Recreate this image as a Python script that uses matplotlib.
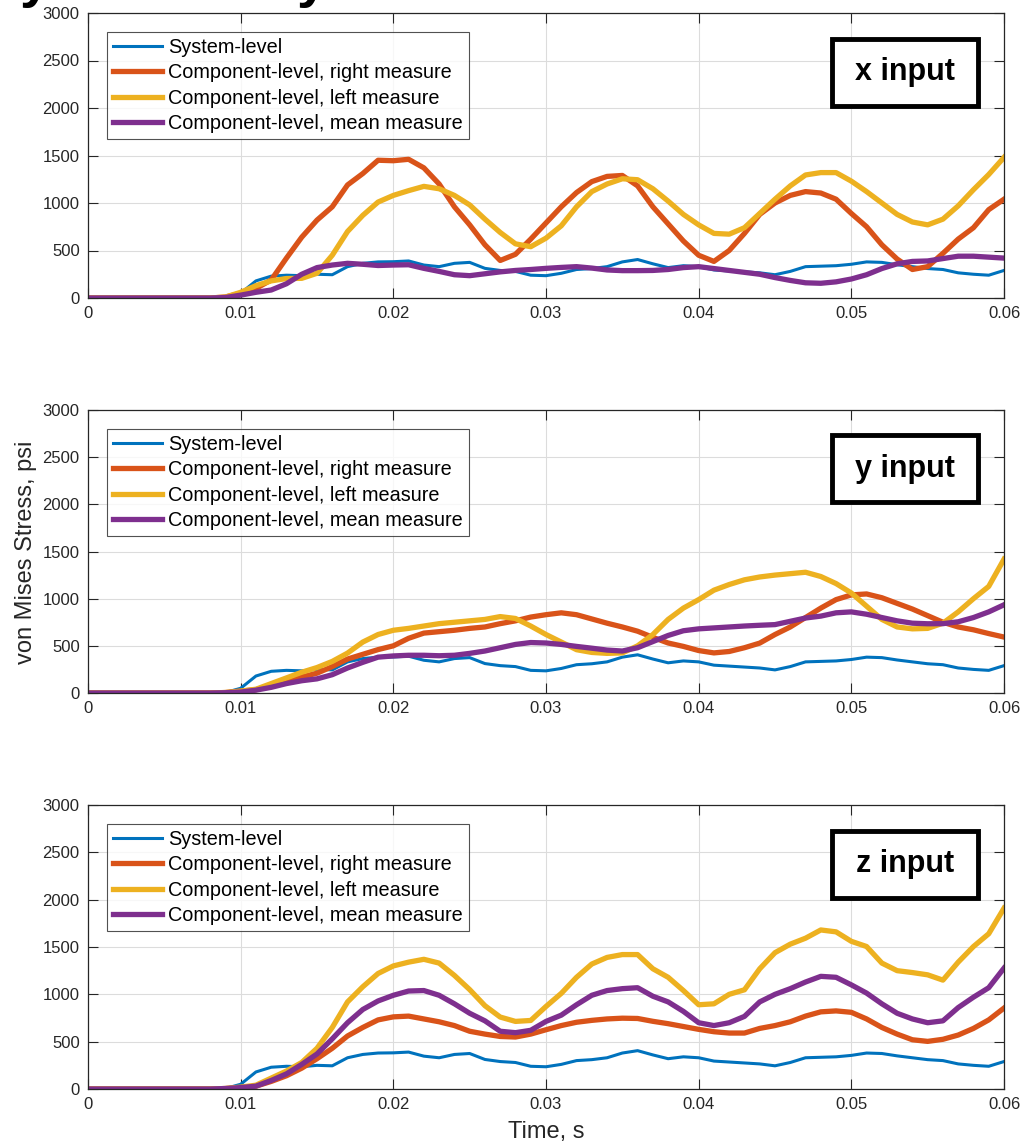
import numpy as np
import matplotlib
matplotlib.use("Agg")
import matplotlib.pyplot as plt
from matplotlib.patches import Rectangle

plt.rcParams["font.family"] = ["Liberation Sans", "DejaVu Sans"]

# time base, ms (plotted in seconds)
time_ms = list(range(0, 61))

# system-level von Mises stress (psi), identical response for every input axis
system_level = [0, 0, 0, 0, 0, 0, 0, 0, 0, 5,
                50, 180, 230, 240, 235, 250, 245, 330, 365, 380,
                382, 390, 347, 330, 365, 375, 312, 290, 280, 240,
                235, 260, 300, 310, 330, 380, 405, 360, 320, 340,
                330, 295, 285, 275, 265, 245, 280, 330, 335, 340,
                355, 380, 375, 350, 330, 310, 300, 265, 250, 240,
                290]

# x input
x_right = [0, 0, 0, 0, 0, 0, 0, 0, 0, 10,
           50, 100, 190, 420, 640, 820, 960, 1190, 1310, 1450,
           1445, 1460, 1370, 1200, 960, 770, 560, 395, 460, 620,
           790, 960, 1110, 1225, 1280, 1290, 1180, 960, 780, 600,
           450, 385, 500, 680, 880, 1000, 1080, 1120, 1105, 1040,
           890, 750, 560, 410, 300, 330, 470, 620, 740, 930,
           1040]
x_left = [0, 0, 0, 0, 0, 0, 0, 0, 0, 10,
          60, 130, 180, 205, 207, 260, 450, 700, 870, 1010,
          1080, 1130, 1175, 1150, 1080, 980, 830, 690, 570, 540,
          630, 760, 960, 1120, 1200, 1255, 1245, 1150, 1020, 880,
          770, 680, 672, 740, 890, 1040, 1180, 1295, 1320, 1320,
          1230, 1120, 1000, 880, 800, 770, 830, 970, 1140, 1300,
          1480]
x_mean = [0, 0, 0, 0, 0, 0, 0, 0, 0, 5,
          30, 60, 84, 150, 250, 320, 347, 365, 355, 342,
          347, 350, 312, 280, 245, 235, 255, 275, 290, 300,
          312, 322, 330, 315, 295, 288, 288, 290, 300, 320,
          330, 310, 290, 270, 250, 215, 185, 160, 155, 170,
          200, 245, 310, 360, 385, 390, 415, 440, 440, 430,
          420]

# y input
y_right = [0, 0, 0, 0, 0, 0, 0, 0, 0, 5,
           20, 35, 80, 130, 170, 210, 280, 360, 410, 460,
           500, 580, 635, 650, 665, 685, 700, 735, 765, 805,
           830, 850, 830, 785, 740, 700, 655, 590, 530, 494,
           450, 425, 440, 480, 529, 620, 700, 800, 900, 990,
           1040, 1050, 1010, 950, 890, 820, 750, 700, 670, 630,
           593]
y_left = [0, 0, 0, 0, 0, 0, 0, 0, 0, 5,
          20, 40, 100, 160, 220, 270, 335, 423, 540, 620,
          665, 685, 710, 735, 750, 765, 780, 810, 790, 710,
          620, 540, 459, 430, 420, 425, 500, 620, 780, 900,
          990, 1090, 1150, 1200, 1230, 1250, 1265, 1280, 1235, 1160,
          1060, 920, 780, 700, 680, 685, 740, 860, 1000, 1130,
          1419]
y_mean = [0, 0, 0, 0, 0, 0, 0, 0, 0, 3,
          10, 30, 60, 100, 130, 150, 194, 265, 325, 380,
          393, 400, 400, 395, 400, 420, 445, 480, 515, 535,
          530, 515, 494, 475, 455, 445, 480, 545, 610, 660,
          680, 690, 700, 710, 718, 725, 760, 795, 815, 850,
          860, 835, 800, 765, 740, 734, 735, 755, 800, 860,
          935]

# z input
z_right = [0, 0, 0, 0, 0, 0, 0, 0, 0, 5,
           15, 30, 80, 140, 220, 320, 430, 560, 650, 730,
           762, 770, 740, 710, 670, 610, 580, 555, 549, 580,
           626, 670, 705, 725, 740, 748, 745, 715, 690, 660,
           630, 605, 591, 591, 640, 670, 710, 770, 815, 825,
           810, 740, 650, 580, 520, 503, 525, 570, 640, 730,
           855]
z_left = [0, 0, 0, 0, 0, 0, 0, 0, 0, 5,
          20, 40, 115, 190, 280, 430, 650, 920, 1080, 1220,
          1300, 1340, 1370, 1330, 1200, 1050, 880, 760, 714, 724,
          872, 1010, 1180, 1320, 1390, 1420, 1420, 1270, 1180, 1040,
          890, 900, 1000, 1048, 1270, 1440, 1530, 1593, 1680, 1660,
          1560, 1505, 1330, 1250, 1230, 1206, 1150, 1340, 1505, 1640,
          1910]
z_mean = [0, 0, 0, 0, 0, 0, 0, 0, 0, 5,
          15, 30, 90, 160, 260, 370, 530, 700, 840, 930,
          990, 1035, 1040, 990, 900, 800, 720, 610, 595, 620,
          714, 780, 890, 990, 1040, 1060, 1070, 980, 920, 820,
          700, 670, 700, 767, 920, 1000, 1060, 1130, 1190, 1180,
          1100, 1013, 900, 800, 740, 700, 720, 860, 970, 1070,
          1277]

panel_labels = ["x input", "y input", "z input"]
series_labels = ["System-level", "Component-level, right measure",
                 "Component-level, left measure", "Component-level, mean measure"]
x_ticks = [0, 0.01, 0.02, 0.03, 0.04, 0.05, 0.06]
y_ticks = [0, 500, 1000, 1500, 2000, 2500, 3000]

# MATLAB default line colours
colors = ["#0072BD", "#D95319", "#EDB120", "#7E2F8E"]
widths = [2.2, 3.8, 3.8, 3.8]
axis_gray = "#262626"

t = np.array(time_ms) / 1000.0
panels = [
    (x_right, x_left, x_mean),
    (y_right, y_left, y_mean),
    (z_right, z_left, z_mean),
]

W, H = 1028, 1148
fig = plt.figure(figsize=(W / 100, H / 100), dpi=100)

# axes boxes in pixels: (left, top, right, bottom)
boxes = [(88, 13, 1004, 298), (88, 410, 1004, 693), (88, 805, 1004, 1089)]

for (l, tp, r, b), (right, left, mean), label in zip(boxes, panels, panel_labels):
    ax = fig.add_axes([l / W, 1 - b / H, (r - l) / W, (b - tp) / H])
    for y, c, lw, name in zip([system_level, right, left, mean], colors, widths, series_labels):
        ax.plot(t, y, color=c, lw=lw, label=name, solid_joinstyle="round")
    ax.set_xlim(0, 0.06)
    ax.set_ylim(0, 3000)
    ax.set_xticks(x_ticks)
    ax.set_xticklabels(["0", "0.01", "0.02", "0.03", "0.04", "0.05", "0.06"])
    ax.set_yticks(y_ticks)
    ax.grid(True, color="#dcdcdc", lw=0.8)
    ax.set_axisbelow(True)
    ax.tick_params(direction="in", length=7, width=0.8, colors=axis_gray,
                   labelsize=12, top=True, right=True, pad=6)
    for s in ax.spines.values():
        s.set_color(axis_gray)
        s.set_linewidth(0.9)

    leg = ax.legend(loc="upper left", fontsize=14.3, frameon=True, fancybox=False,
                    borderaxespad=0.95, handlelength=2.5, handletextpad=0.3,
                    labelspacing=0.32, borderpad=0.3)
    leg.get_frame().set_edgecolor(axis_gray)
    leg.get_frame().set_linewidth(0.8)

    # boxed input-direction tag
    bw, bh = 146 / (r - l), 67 / (b - tp)
    cx, cy = 0.892, 0.792
    ax.add_patch(Rectangle((cx - bw / 2, cy - bh / 2), bw, bh, transform=ax.transAxes,
                           facecolor="white", edgecolor="black", lw=3.5, zorder=5))
    ax.text(cx, cy, label, transform=ax.transAxes, ha="center", va="center",
            fontsize=22, fontweight="bold", color="black", zorder=6)

fig.text(26 / W, 1 - 552 / H, "von Mises Stress, psi", rotation=90,
         ha="center", va="center", fontsize=17, color=axis_gray)
fig.text(546 / W, 1 - 1132 / H, "Time, s", ha="center", va="center",
         fontsize=17, color=axis_gray)

# descenders of the heading line that sits above the canvas
for px in (20, 297):
    fig.text(px / W, 1 + 4 / H, "y", ha="left", va="baseline", fontsize=40,
             fontweight="bold", color="black")

fig.savefig("out.png", dpi=100)
